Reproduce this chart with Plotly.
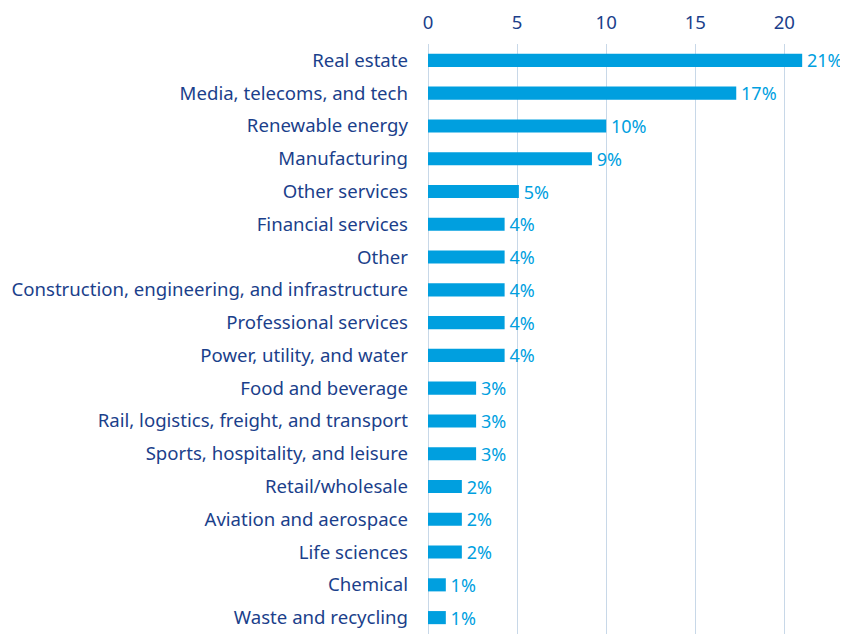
import plotly.graph_objects as go

categories = [
    "Real estate",
    "Media, telecoms, and tech",
    "Renewable energy",
    "Manufacturing",
    "Other services",
    "Financial services",
    "Other",
    "Construction, engineering, and infrastructure",
    "Professional services",
    "Power, utility, and water",
    "Food and beverage",
    "Rail, logistics, freight, and transport",
    "Sports, hospitality, and leisure",
    "Retail/wholesale",
    "Aviation and aerospace",
    "Life sciences",
    "Chemical",
    "Waste and recycling",
]
values = [21.0, 17.3, 10.0, 9.2, 5.1, 4.3, 4.3, 4.3, 4.3, 4.3, 2.7, 2.7, 2.7, 1.9, 1.9, 1.9, 1.0, 1.0]
value_labels = ["21%", "17%", "10%", "9%", "5%", "4%", "4%", "4%", "4%", "4%",
                "3%", "3%", "3%", "2%", "2%", "2%", "1%", "1%"]
x_ticks = [0, 5, 10, 15, 20]

BAR = "#009FDF"
NAVY = "#1B3F8B"
FS = 18.6

fig = go.Figure(go.Bar(
    x=values,
    y=categories,
    orientation="h",
    marker=dict(color=BAR, line=dict(width=0)),
    text=value_labels,
    texttemplate="\u200a%{text}",
    textposition="outside",
    constraintext="none",
    textfont=dict(color=BAR, size=18, family="Noto Sans"),
    cliponaxis=False,
    hoverinfo="skip",
))

fig.update_layout(
    width=840,
    height=630,
    margin=dict(l=420, r=28, t=36, b=4),
    plot_bgcolor="white",
    paper_bgcolor="white",
    bargap=0.6,
    showlegend=False,
    font=dict(family="Noto Sans", color=NAVY, size=FS),
    xaxis=dict(
        side="top",
        range=[0, 22],
        tickvals=x_ticks,
        showgrid=True,
        gridcolor="#C8D8E8",
        gridwidth=1,
        zeroline=True,
        zerolinecolor="#C8D8E8",
        zerolinewidth=1,
        showline=False,
        ticks="",
        ticklabelstandoff=10,
        tickfont=dict(size=FS, color=NAVY),
        automargin=False,
        fixedrange=True,
    ),
    yaxis=dict(
        categoryorder="array",
        categoryarray=categories[::-1],
        showgrid=False,
        ticks="",
        ticklabelstandoff=19,
        tickfont=dict(size=FS, color=NAVY),
        automargin=False,
        fixedrange=True,
    ),
)

fig.write_html("out.html")
